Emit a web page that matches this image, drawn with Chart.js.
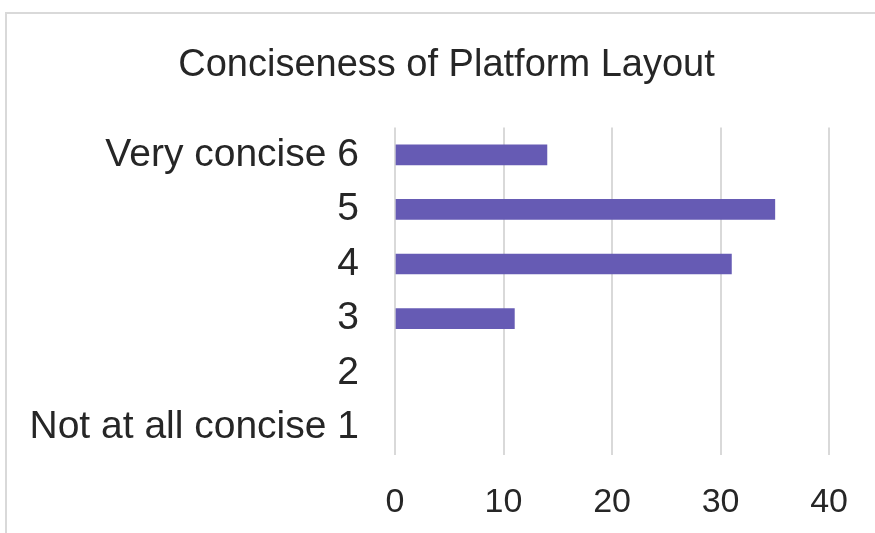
<!DOCTYPE html>
<html>
<head>
<meta charset="utf-8">
<script src="https://cdn.jsdelivr.net/npm/chart.js@4"></script>
<style>
  html, body { margin: 0; padding: 0; background: #fff; }
  #wrap { position: relative; width: 875px; height: 533px; overflow: hidden; }
  #frame {
    position: absolute; left: 5px; top: 12px; width: 900px; height: 560px;
    border-top: 2px solid #d9d9d9; border-left: 2px solid #d9d9d9;
  }
  #grafico { position: absolute; left: 0; top: 0; }
</style>
</head>
<body>
<div id="wrap">
  <div id="frame"></div>
  <canvas id="grafico" width="875" height="533"></canvas>
</div>
<script>
var titulo = "Conciseness of Platform Layout";
var categorias = ["Very concise 6", "5", "4", "3", "2", "Not at all concise 1"];
var valores = [14, 35, 31, 11, 0, 0];
var ejeMax = 40;
var ejePaso = 10;

var colorBarra = "#665bb4";
var colorTexto = "#262626";
var colorRejilla = "#d9d9d9";
var fuente = "'Liberation Sans', Arial, sans-serif";

Chart.defaults.font.family = fuente;
Chart.defaults.color = colorTexto;

var dataGrafico = {
  labels: categorias,
  datasets: [
    {
      data: valores,
      // las barras en cero no se pintan
      backgroundColor: function (ctx) {
        return ctx.raw === 0 ? "rgba(0,0,0,0)" : colorBarra;
      },
      borderWidth: 0,
      barThickness: 20,
      yAxisID: "y",
    }
  ]
};

var configGrafico = {
  type: "bar",
  data: dataGrafico,
  options: {
    indexAxis: "y",
    responsive: false,
    animation: false,
    layout: {padding: {left: 18, right: 0, top: 0, bottom: 0}},
    plugins: {
      legend: {display: false},
      tooltip: {enabled: false},
      title: {
        display: true,
        text: titulo,
        color: colorTexto,
        font: {size: 38, weight: "normal"},
        padding: {top: 43, bottom: 39}
      }
    },
    scales: {
      x: {
        min: 0,
        max: ejeMax,
        ticks: {stepSize: ejePaso, padding: 27, font: {size: 34}, color: colorTexto},
        grid: {color: colorRejilla, lineWidth: 2, drawTicks: false},
        border: {display: false},
        afterFit: function (s) { s.height = 78; }
      },
      y: {
        ticks: {padding: 36, font: {size: 39}, color: colorTexto, autoSkip: false},
        grid: {display: false, drawTicks: false},
        border: {display: false},
        afterFit: function (s) { s.width = 377; }
      },
      // hueco vacio a la derecha
      yDer: {
        type: "category",
        position: "right",
        ticks: {display: false},
        grid: {display: false, drawTicks: false},
        border: {display: false},
        afterFit: function (s) { s.width = 44; }
      }
    }
  }
};

var grafico = new Chart(document.getElementById("grafico"), configGrafico);
</script>
</body>
</html>
